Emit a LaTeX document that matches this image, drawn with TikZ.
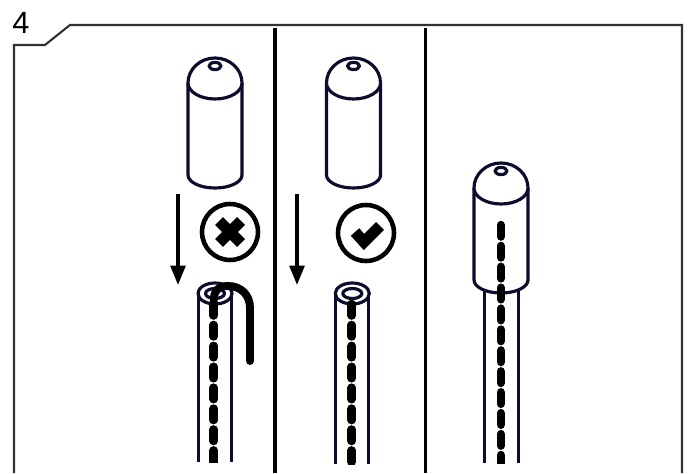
\documentclass[tikz,border=0pt]{standalone}
\usepackage{xcolor}
\usepackage{fontspec}
\setmainfont{Liberation Sans}
\usetikzlibrary{arrows.meta, positioning}
\definecolor{myink}{RGB}{12,12,45}
\definecolor{myframe}{RGB}{50,50,50}
\tikzset{
  frameline/.style={line width=1.2pt, color=myframe, line join=miter},
  divider/.style={line width=2pt, color=black},
  capline/.style={line width=1.8pt, color=myink, fill=white, line join=round},
  tubeline/.style={line width=1.7pt, color=myink},
  wire/.style={line width=4.8pt, color=black, line cap=round,
    dash pattern=on 6.6pt off 5.3pt},
  hookwire/.style={line width=4.5pt, color=black, line cap=round},
  downarrow/.style={-{Triangle[length=11pt,width=8.4pt]}, line width=1.9pt, color=black},
  markcircle/.style={circle, draw=black, line width=2.6pt, inner sep=0pt, minimum size=1.12cm},
  markstroke/.style={line width=6.4pt, color=black},
  panelnum/.style={font=\fontsize{17.5}{20}\selectfont, inner sep=0pt}
}
\begin{document}
\begin{tikzpicture}[x=0.02cm, y=0.02cm]
  \useasboundingbox (0,0) rectangle (688,473);

  % Frame with the clipped corner, number and panel dividers
  \draw[frameline] (14,0) -- (14,428) -- (45,428) -- (70,448) -- (682,448) -- (682,0);
  \node[panelnum] (stepnum) at (21,450) {4};
  \draw[divider] (275,445) -- (275,0);
  \draw[divider] (425.5,445) -- (425.5,0);

  % Tubes: x centre / lower end
  \foreach \tubex/\tubey in {215/11, 352.3/9} {
    \begin{scope}[shift={(\tubex,179.5)}]
      \draw[tubeline] (-16.4,0) -- (-16.4,\tubey-179.5);
      \draw[tubeline] (16.4,0) -- (16.4,\tubey-179.5);
      \draw[capline, fill=white] (0,0) circle [x radius=17, y radius=10.5];
      \draw[capline] (0,0) circle [x radius=9.5, y radius=5];
    \end{scope}
  }
  % Third tube goes under the fitted cap
  \draw[tubeline] (484.8,190) -- (484.8,10);
  \draw[tubeline] (518,190) -- (518,10);

  % Caps: x centre / height of the dome base
  \foreach \capx/\capy in {215/390, 353.5/390, 501/285} {
    \begin{scope}[shift={(\capx,\capy)}]
      \draw[capline] (-27,0) arc [start angle=180, end angle=0, x radius=27, y radius=25]
        -- (27,-92) arc [start angle=0, end angle=-180, x radius=27, y radius=13] -- cycle;
      \draw[capline] (-27,0) arc [start angle=180, end angle=360, x radius=27, y radius=16];
      \draw[capline] (0,17) circle [x radius=6, y radius=3.6];
    \end{scope}
  }

  % Dashed wires, cut off level with the tube ends
  \begin{scope}
    \clip (190,11) rectangle (240,200);
    \draw[wire] (213.7,169) -- (213.7,0);
  \end{scope}
  \begin{scope}
    \clip (330,9) rectangle (375,200);
    \draw[wire] (351.7,169) -- (351.7,0);
  \end{scope}
  \begin{scope}
    \clip (480,10) rectangle (522,260);
    \draw[wire] (500.8,248) -- (500.8,0);
  \end{scope}

  % Wire bent over the tube edge
  \draw[hookwire] (213.7,161) -- (213.7,172) .. controls (213.7,182) and (218,187) .. (228,187)
    .. controls (241,187) and (250,178) .. (250,165) -- (250,112);

  % Insertion arrows
  \coordinate (arrowtopa) at (178,279);
  \coordinate (arrowenda) at (178,188);
  \coordinate (arrowtopb) at (297,279);
  \coordinate (arrowendb) at (297,188);
  \draw[downarrow] (arrowtopa) -- (arrowenda);
  \draw[downarrow] (arrowtopb) -- (arrowendb);

  % Wrong and right marks
  \node[markcircle] (wrongmark) at (230,241) {};
  \draw[markstroke] (219,230) -- (241,252);
  \draw[markstroke] (219,252) -- (241,230);
  \node[markcircle] (rightmark) at (366,240) {};
  \draw[markstroke, line join=miter] (355,241) -- (364,231) -- (380,247);
\end{tikzpicture}
\end{document}
